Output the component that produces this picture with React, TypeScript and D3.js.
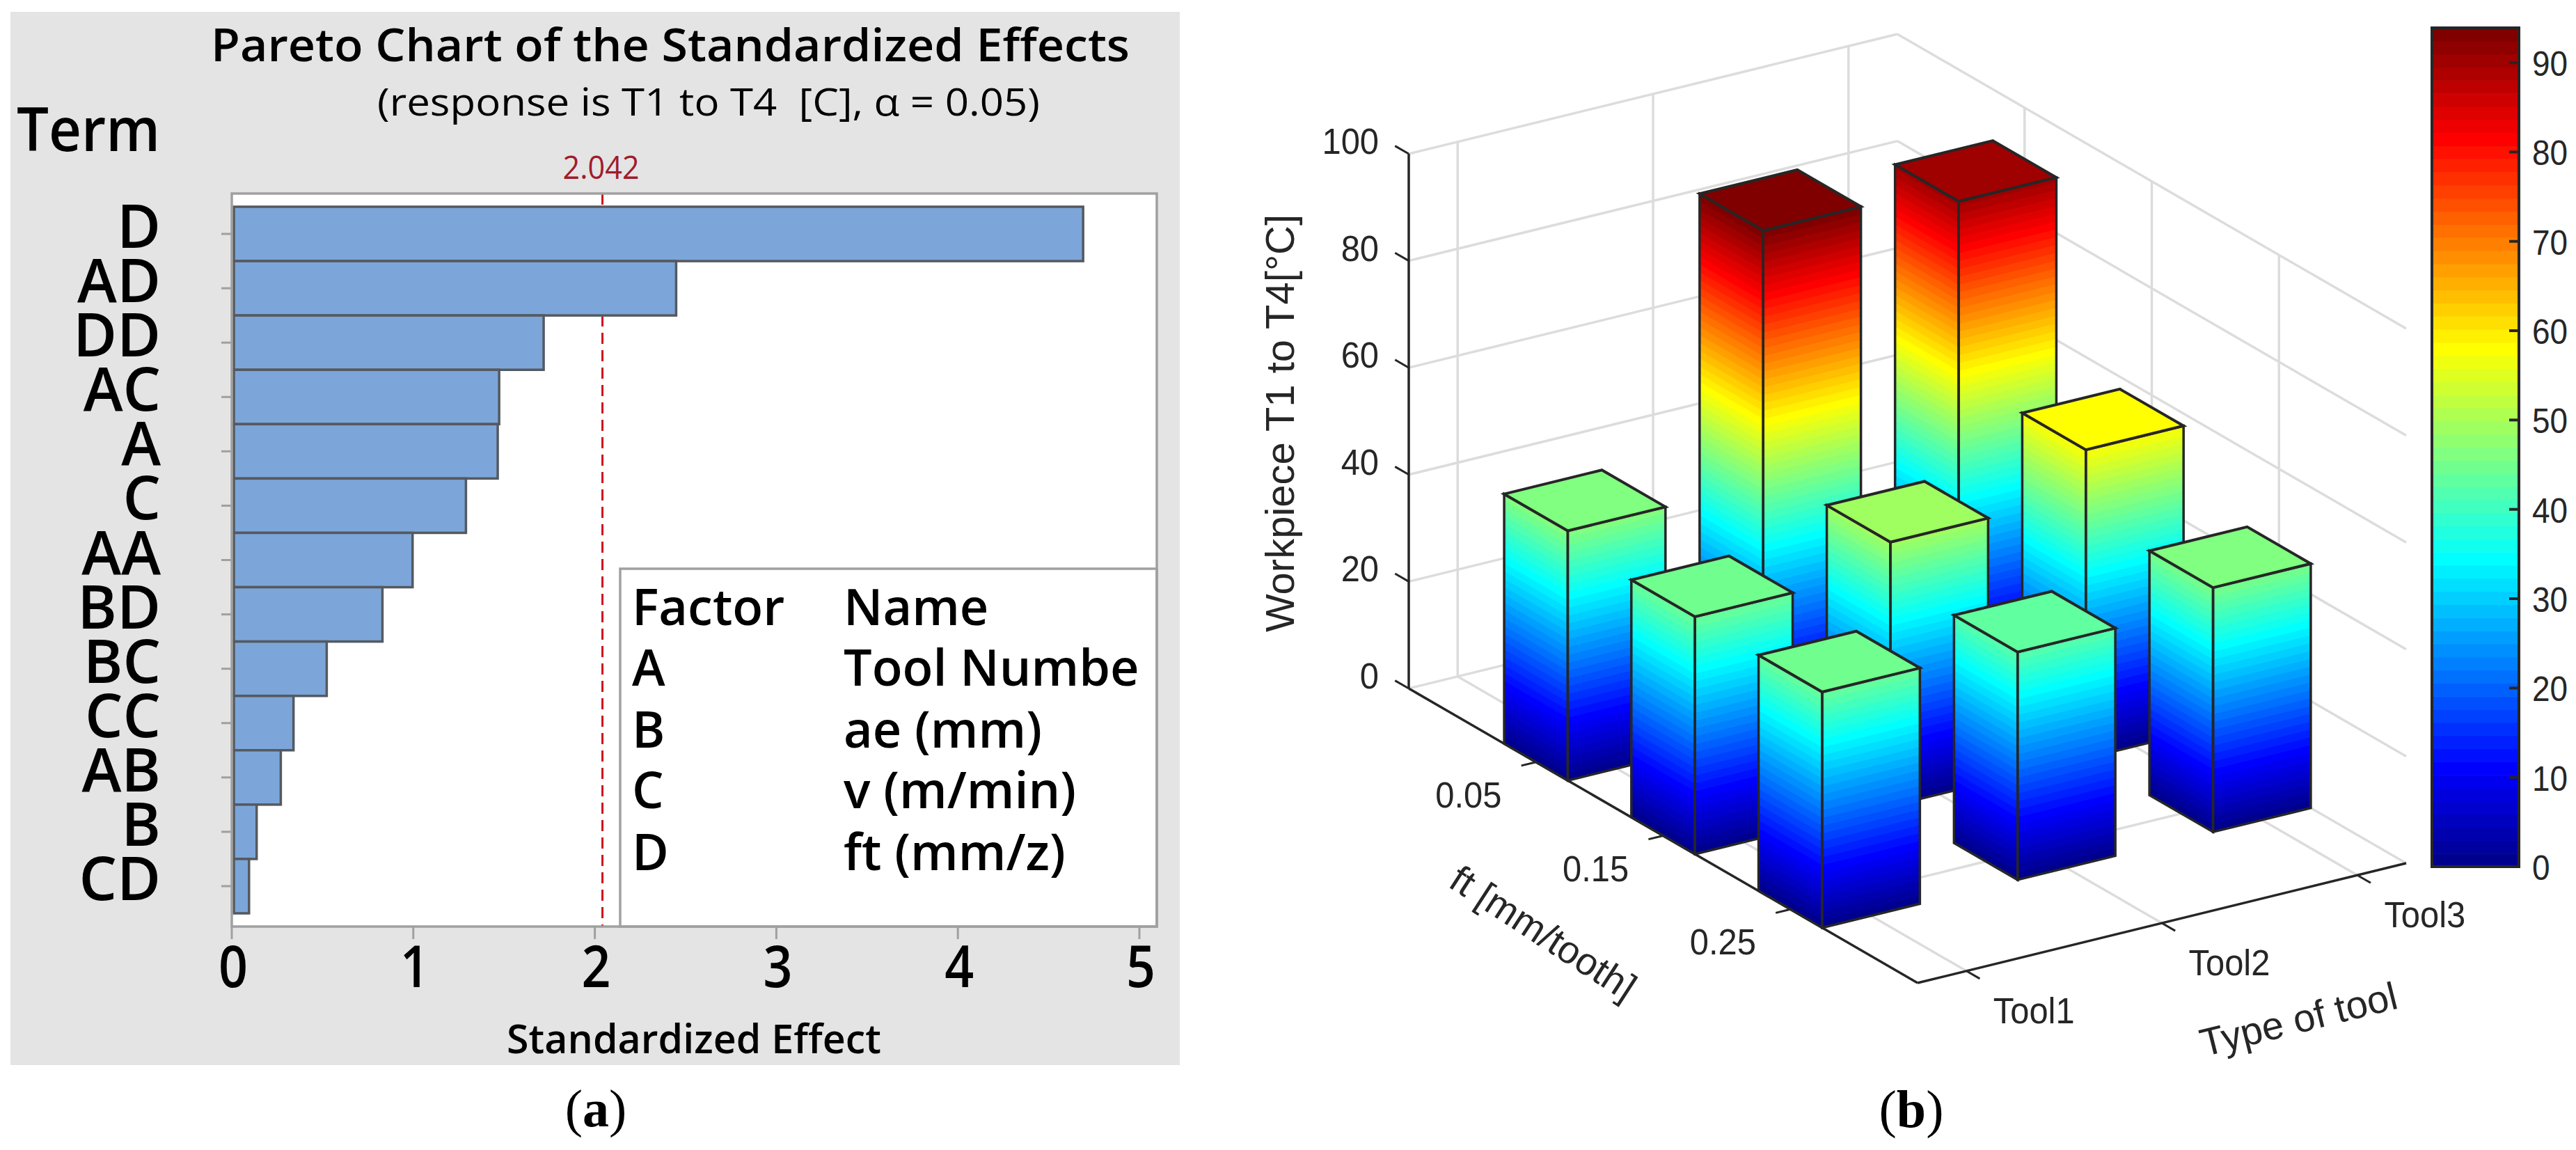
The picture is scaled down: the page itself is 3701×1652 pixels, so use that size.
import React, { useRef, useEffect } from 'react';
import * as d3 from 'd3';

// panel (a) pareto chart
const terms = ['D', 'AD', 'DD', 'AC', 'A', 'C', 'AA', 'BD', 'BC', 'CC', 'AB', 'B', 'CD'];
const effects = [4.69, 2.448, 1.718, 1.473, 1.465, 1.29, 0.996, 0.83, 0.523, 0.34, 0.27, 0.137, 0.095];
const effectTicks = [0, 1, 2, 3, 4, 5];
const threshold = 2.042;
const factorLetters = ['Factor', 'A', 'B', 'C', 'D'];
const factorNames = ['Name', 'Tool Numbe', 'ae (mm)', 'v (m/min)', 'ft (mm/z)'];

// panel (b) 3D bars, one list per tool, ordered by ft
const ftLabels = ['0.05', '0.15', '0.25'];
const toolLabels = ['Tool1', 'Tool2', 'Tool3'];
const tool1Temps = [46.7, 44.4, 44.1];
const tool2Temps = [93.9, 49.4, 42.6];
const tool3Temps = [90.4, 57.7, 45.7];
const zTicks = [0, 20, 40, 60, 80, 100];
const colorTicks = [0, 10, 20, 30, 40, 50, 60, 70, 80, 90];
const colorMax = 93.9;
const levels = 64;

const clamp01 = (v: number) => Math.max(0, Math.min(1, v));
// matlab jet(64)
const jet = (i: number) => {
  const t = i / levels;
  const r = clamp01(1.5 - Math.abs(4 * t - 3));
  const g = clamp01(1.5 - Math.abs(4 * t - 2));
  const b = clamp01(1.5 - Math.abs(4 * t - 1));
  return d3.rgb(r * 255, g * 255, b * 255).formatHex();
};
const jetAt = (v: number) => jet(Math.max(1, Math.min(levels, Math.floor((v / colorMax) * levels) + 1)));

const App: React.FC = () => {
  const svgRef = useRef<SVGSVGElement>(null);

  useEffect(() => {
    const svg = d3.select(svgRef.current);
    svg.selectAll('*').remove();

    const text = (
      g: any, x: number, y: number, s: string, size: number,
      opts: { anchor?: string; weight?: number; fill?: string; len?: number; family?: string; rotate?: number; sx?: number } = {}
    ) => {
      const t = g.append('text')
        .attr('font-family', opts.family ?? '"Open Sans"')
        .attr('font-size', size)
        .attr('text-anchor', opts.anchor ?? 'start')
        .attr('font-weight', opts.weight ?? 400)
        .attr('fill', opts.fill ?? '#000')
        .attr('xml:space', 'preserve')
        .text(s);
      if (opts.rotate !== undefined) t.attr('transform', `translate(${x},${y}) rotate(${opts.rotate})`);
      else if (opts.sx !== undefined) t.attr('transform', `translate(${x},${y}) scale(${opts.sx},1)`);
      else t.attr('x', x).attr('y', y);
      if (opts.len) t.attr('textLength', opts.len).attr('lengthAdjust', 'spacingAndGlyphs');
      return t;
    };
    const caption = (x: number, y: number, letter: string) => {
      const t = text(svg, x, y, '', 76, { anchor: 'middle', family: '"Liberation Serif"' });
      t.append('tspan').text('(');
      t.append('tspan').attr('font-weight', 700).text(letter);
      t.append('tspan').text(')');
    };

    // ---------- panel a ----------
    const a = svg.append('g');
    a.append('rect').attr('x', 15).attr('y', 17).attr('width', 1680).attr('height', 1513).attr('fill', '#e4e4e4');

    const plotL = 333, plotR = 1662, plotT = 278, plotB = 1331;
    const xScale = d3.scaleLinear().domain([0, 5]).range([plotL, 1637]);
    const yScale = d3.scaleBand().domain(terms).range([297, 1312]);
    const frameCol = '#a0a0a0';

    a.append('rect').attr('x', plotL).attr('y', plotT).attr('width', plotR - plotL).attr('height', plotB - plotT)
      .attr('fill', '#fff');

    // threshold line, the two longest bars cover it
    const threshX = xScale(threshold);
    a.append('line').attr('x1', threshX).attr('x2', threshX).attr('y1', plotT).attr('y2', plotB)
      .attr('stroke', '#cc1020').attr('stroke-width', 3).attr('stroke-dasharray', '16 9');

    a.selectAll('rect.bar').data(terms).enter().append('rect')
      .attr('class', 'bar')
      .attr('x', xScale(0) + 3)
      .attr('y', d => yScale(d)!)
      .attr('width', (d, i) => xScale(effects[i]) - xScale(0) - 3)
      .attr('height', yScale.bandwidth())
      .attr('fill', '#7ca6d9')
      .attr('stroke', '#55595f')
      .attr('stroke-width', 3.5);

    // legend box
    a.append('rect').attr('x', 891).attr('y', 817).attr('width', plotR - 891).attr('height', plotB - 817)
      .attr('fill', '#fff').attr('stroke', frameCol).attr('stroke-width', 3.5);
    a.append('rect').attr('x', plotL).attr('y', plotT).attr('width', plotR - plotL).attr('height', plotB - plotT)
      .attr('fill', 'none').attr('stroke', frameCol).attr('stroke-width', 3.5);

    const legendBaselines = [898, 985, 1074, 1161, 1250];
    factorLetters.forEach((s, i) => text(a, 908, legendBaselines[i], s, 72, { weight: 600 }));
    factorNames.forEach((s, i) => text(a, 1212, legendBaselines[i], s, 72, { weight: 600 }));

    // y ticks and labels
    terms.forEach(t => {
      const c = yScale(t)! + yScale.bandwidth() / 2;
      a.append('line').attr('x1', 318).attr('x2', plotL).attr('y1', c).attr('y2', c)
        .attr('stroke', frameCol).attr('stroke-width', 3);
      text(a, 231, c + 20, t, 86, { anchor: 'end', weight: 600 });
    });

    // x ticks and labels
    effectTicks.forEach(v => {
      a.append('line').attr('x1', xScale(v)).attr('x2', xScale(v)).attr('y1', plotB).attr('y2', 1349)
        .attr('stroke', frameCol).attr('stroke-width', 3);
      text(a, xScale(v) + 2, 1418, String(v), 84, { anchor: 'middle', len: 42, weight: 600 });
    });

    text(a, 303, 88, 'Pareto Chart of the Standardized Effects', 66, { len: 1320, weight: 600 });
    text(a, 542, 166, '(response is T1 to T4  [C], \u03b1 = 0.05)', 54, { len: 952, weight: 500 });
    text(a, 24, 217, 'Term', 86, { len: 206, weight: 600 });
    text(a, threshX - 2, 257, String(threshold), 46, { anchor: 'middle', fill: '#a01c2c', len: 110, weight: 500 });
    text(a, 728, 1513, 'Standardized Effect', 58, { len: 538, weight: 600 });
    caption(856, 1618, 'a');

    // ---------- panel b ----------
    const b = svg.append('g');
    const sans = '"Liberation Sans"';
    const dark = '#262626';
    const gridCol = '#dcdcdc';

    // projection: ft runs along one floor edge, tool along the other, z straight up
    const ftX = d3.scaleLinear().domain([0, 4]).range([2024, 2755]);
    const ftY = d3.scaleLinear().domain([0, 4]).range([989, 1412]);
    const toolX = d3.scaleLinear().domain([0.75, 3.25]).range([0, 702]);
    const toolY = d3.scaleLinear().domain([0.75, 3.25]).range([0, -172]);
    const zY = d3.scaleLinear().domain([0, 100]).range([0, -768]);
    const project = (f: number, t: number, z: number): [number, number] =>
      [ftX(f) + toolX(t), ftY(f) + toolY(t) + zY(z)];
    const line3 = (g: any, p: [number, number], q: [number, number], stroke: string, w: number) =>
      g.append('line').attr('x1', p[0]).attr('y1', p[1]).attr('x2', q[0]).attr('y2', q[1])
        .attr('stroke', stroke).attr('stroke-width', w);
    const poly = (g: any, pts: [number, number][], fill: string, stroke = 'none', w = 0) =>
      g.append('path').attr('d', d3.line()(pts) + 'Z').attr('fill', fill).attr('stroke', stroke)
        .attr('stroke-width', w).attr('stroke-linejoin', 'miter');

    const fMin = 0, fMax = 4, tMin = 0.75, tMax = 3.25;

    // walls and floor grid
    zTicks.forEach(z => {
      line3(b, project(fMin, tMin, z), project(fMin, tMax, z), gridCol, 3.5);
      line3(b, project(fMin, tMax, z), project(fMax, tMax, z), gridCol, 3.5);
    });
    [1, 2, 3].forEach(t => {
      line3(b, project(fMin, t, 0), project(fMin, t, 100), gridCol, 3.5);
      line3(b, project(fMin, t, 0), project(fMax, t, 0), gridCol, 3.5);
    });
    [1, 2, 3].forEach(f => {
      line3(b, project(f, tMax, 0), project(f, tMax, 100), gridCol, 3.5);
      line3(b, project(f, tMin, 0), project(f, tMax, 0), gridCol, 3.5);
    });

    // axes
    line3(b, project(fMin, tMin, 0), project(fMin, tMin, 100), dark, 3.5);
    line3(b, project(fMin, tMin, 0), project(fMax, tMin, 0), dark, 3.5);
    line3(b, project(fMax, tMin, 0), project(fMax, tMax, 0), dark, 3.5);

    const tickSx = 0.94;
    zTicks.forEach(z => {
      line3(b, project(fMin, tMin, z), project(fMin - 0.108, tMin, z), dark, 3);
      const p = project(fMin, tMin, z);
      text(b, p[0] - 43, p[1], String(z), 52, { anchor: 'end', family: sans, fill: dark, sx: tickSx });
    });
    ftLabels.forEach((s, i) => {
      const f = i + 1;
      line3(b, project(f, tMin, 0), project(f, tMin - 0.075, 0), dark, 3);
      const p = project(f, tMin, 0);
      text(b, p[0] - 97, p[1] + 65, s, 52, { anchor: 'middle', family: sans, fill: dark, sx: tickSx });
    });
    toolLabels.forEach((s, i) => {
      const t = i + 1;
      line3(b, project(fMax, t, 0), project(fMax + 0.105, t, 0), dark, 3);
      const p = project(fMax, t, 0);
      text(b, p[0] + 97, p[1] + 75, s, 52, { anchor: 'middle', family: sans, fill: dark, sx: tickSx });
    });

    // bars, far ones first
    const half = 0.25;
    const temps = [tool1Temps, tool2Temps, tool3Temps];
    const levelZ = d3.scaleLinear().domain([0, levels]).range([0, colorMax]);
    ftLabels.forEach((_, fi) => {
      for (let ti = toolLabels.length - 1; ti >= 0; ti--) {
        const f = fi + 1, t = ti + 1, h = temps[ti][fi];
        const f0 = f - half, f1 = f + half, t0 = t - half, t1 = t + half;
        // faces are built up from the colormap levels so the bands follow the top edge
        for (let k = 0; k < levels && levelZ(k) < h; k++) {
          const lo = levelZ(k), hi = Math.min(h, levelZ(k + 1) + 0.25);
          const col = jet(k + 1);
          poly(b, [project(f0, t0, lo), project(f1, t0, lo), project(f1, t0, hi), project(f0, t0, hi)], col);
          poly(b, [project(f1, t0, lo), project(f1, t1, lo), project(f1, t1, hi), project(f1, t0, hi)], col);
        }
        poly(b, [project(f0, t0, 0), project(f1, t0, 0), project(f1, t0, h), project(f0, t0, h)], 'none', dark, 3.5);
        poly(b, [project(f1, t0, 0), project(f1, t1, 0), project(f1, t1, h), project(f1, t0, h)], 'none', dark, 3.5);
        poly(b, [project(f0, t0, h), project(f1, t0, h), project(f1, t1, h), project(f0, t1, h)], jetAt(h), dark, 4);
      }
    });

    // colorbar
    const cScale = d3.scaleLinear().domain([0, colorMax]).range([1245, 40]);
    const cbL = 3494, cbR = 3619;
    d3.range(levels).forEach(k => {
      const y0 = cScale(levelZ(k)), y1 = cScale(levelZ(k + 1));
      b.append('rect').attr('x', cbL).attr('width', cbR - cbL).attr('y', y1).attr('height', y0 - y1 + 0.6)
        .attr('fill', jet(k + 1));
    });
    b.append('rect').attr('x', cbL).attr('width', cbR - cbL).attr('y', cScale(colorMax)).attr('height', 1245 - 40)
      .attr('fill', 'none').attr('stroke', dark).attr('stroke-width', 4);
    colorTicks.forEach(v => {
      b.append('line').attr('x1', cbR - 14).attr('x2', cbR).attr('y1', cScale(v)).attr('y2', cScale(v))
        .attr('stroke', dark).attr('stroke-width', 4);
      text(b, 3638, cScale(v) + 19, String(v), 50, { family: sans, fill: dark, sx: 0.92 });
    });

    // axis titles
    text(b, 1859, 608, 'Workpiece T1 to T4[\u00b0C]', 58, { anchor: 'middle', family: sans, fill: dark, rotate: -90 });
    text(b, 2207, 1356, 'ft [mm/tooth]', 55, { anchor: 'middle', family: sans, fill: dark, rotate: 33 });
    text(b, 3307, 1483, 'Type of tool', 56, { anchor: 'middle', family: sans, fill: dark, rotate: -14 });

    caption(2746, 1619, 'b');
  }, []);

  return (
    <svg
      ref={svgRef}
      width={3701}
      height={1652}
      style={{ position: 'absolute', left: 0, top: 0, background: '#fff' }}
    />
  );
};

export default App;
